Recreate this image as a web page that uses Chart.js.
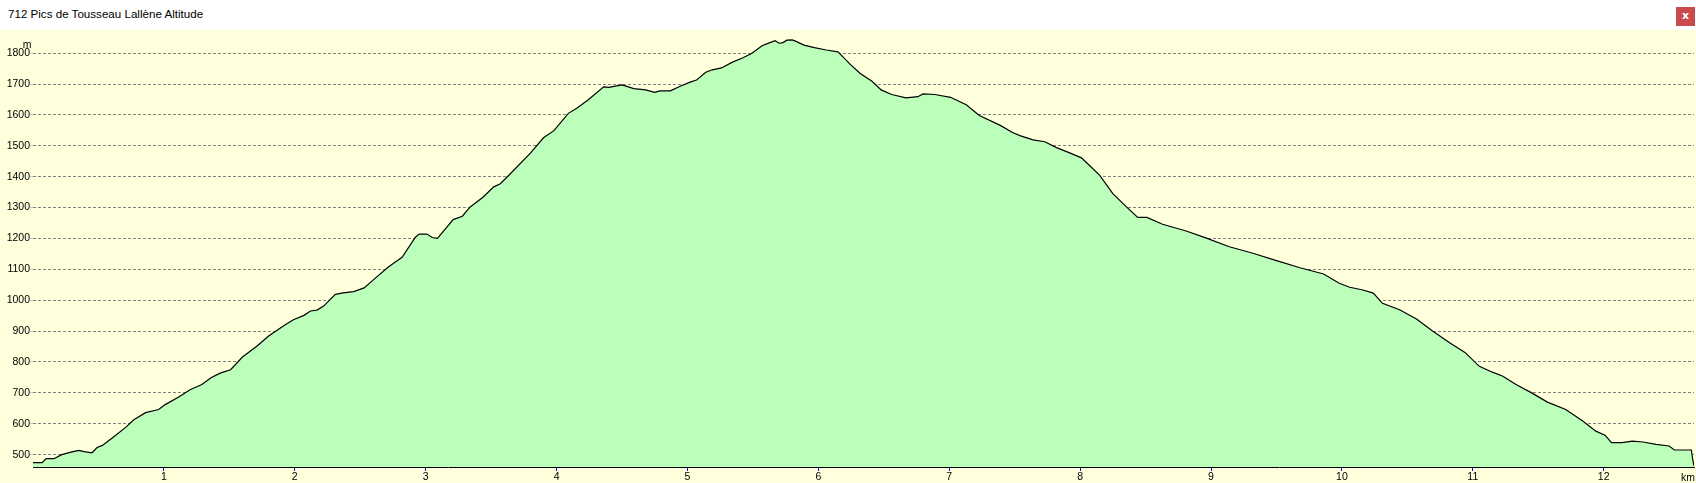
<!DOCTYPE html>
<html>
<head>
<meta charset="utf-8">
<title>712 Pics de Tousseau Lallène Altitude</title>
<script src="https://cdn.jsdelivr.net/npm/chart.js@4"></script>
<style>
  body { margin: 0; background: #fff; width: 1696px; height: 483px; overflow: hidden; position: relative; }
  #title {
    position: absolute; left: 8px; top: 7px;
    font: 11.6px "Liberation Sans", Arial, sans-serif; color: #000;
  }
  #close {
    position: absolute; left: 1676px; top: 7px; width: 19px; height: 19px;
    background: #c94b4b; color: #fff; font: bold 11px "DejaVu Sans", sans-serif;
    text-align: center; line-height: 18px;
  }
  #wrap { position: absolute; left: 0; top: 30px; width: 1696px; height: 453px; background: #ffffdc; }
</style>
</head>
<body>
<div id="title">712 Pics de Tousseau Lallène Altitude</div>
<div id="close">x</div>
<div id="wrap"><canvas id="profile" width="1696" height="453"></canvas></div>

<script>
// distance (km) and altitude (m)
const distKm = [
  0.00, 0.07, 0.10, 0.16, 0.22, 0.29, 0.35, 0.39, 0.45, 0.49, 0.53, 0.62, 0.71, 0.77, 0.86, 0.96,
  1.01, 1.11, 1.20, 1.29, 1.36, 1.43, 1.51, 1.60, 1.71, 1.80, 1.93, 1.99,
  2.07, 2.12, 2.17, 2.22, 2.31, 2.37, 2.45, 2.53, 2.60, 2.71, 2.76, 2.82, 2.92, 2.95,
  3.01, 3.05, 3.09, 3.21, 3.28, 3.34, 3.44, 3.52, 3.57, 3.63, 3.80, 3.90, 3.98,
  4.09, 4.16, 4.24, 4.36, 4.40, 4.50, 4.59, 4.68, 4.75, 4.79, 4.87, 4.94,
  5.02, 5.07, 5.14, 5.19, 5.26, 5.34, 5.42, 5.49, 5.57, 5.63, 5.67, 5.70, 5.73, 5.76, 5.80, 5.83, 5.89, 5.97,
  6.06, 6.15, 6.24, 6.32, 6.41, 6.48, 6.56, 6.67, 6.76, 6.80, 6.89,
  7.01, 7.13, 7.23, 7.39, 7.48, 7.54, 7.64, 7.73, 7.82, 7.92,
  8.01, 8.07, 8.15, 8.25, 8.35, 8.44, 8.51, 8.63, 8.81, 8.96,
  9.14, 9.32, 9.50, 9.68, 9.86, 9.98,
  10.06, 10.16, 10.24, 10.31, 10.44, 10.57, 10.69, 10.82, 10.94,
  11.05, 11.15, 11.23, 11.33, 11.45, 11.57, 11.71, 11.84, 11.94,
  12.01, 12.06, 12.14, 12.22, 12.30, 12.40, 12.50, 12.54, 12.67, 12.68, 12.69
];
const altM = [
  474, 474, 487, 487, 500, 508, 514, 510, 506, 523, 530, 559, 589, 613, 636, 646,
  662, 686, 710, 727, 749, 764, 775, 816, 851, 884, 921, 937,
  951, 965, 968, 981, 1019, 1024, 1028, 1040, 1066, 1106, 1121, 1139, 1203, 1214,
  1214, 1203, 1200, 1261, 1272, 1302, 1334, 1367, 1377, 1402, 1476, 1526, 1549,
  1605, 1623, 1648, 1691, 1689, 1697, 1685, 1681, 1673, 1678, 1678, 1692,
  1706, 1713, 1738, 1746, 1752, 1770, 1784, 1799, 1824, 1834, 1840, 1832, 1834, 1842, 1843, 1838, 1826, 1818,
  1810, 1804, 1765, 1734, 1709, 1681, 1666, 1655, 1659, 1668, 1666,
  1657, 1633, 1598, 1566, 1544, 1533, 1519, 1513, 1494, 1477,
  1461, 1437, 1404, 1345, 1304, 1268, 1268, 1246, 1224, 1202,
  1173, 1152, 1128, 1105, 1085, 1055,
  1042, 1033, 1023, 990, 969, 939, 901, 863, 831,
  786, 767, 754, 727, 700, 670, 646, 609, 576,
  563, 539, 539, 544, 541, 533, 528, 515, 515, 485, 463
];

const xTicks = [1, 2, 3, 4, 5, 6, 7, 8, 9, 10, 11, 12];
const yTicks = [500, 600, 700, 800, 900, 1000, 1100, 1200, 1300, 1400, 1500, 1600, 1700, 1800];
const xUnit = "km";
const yUnit = "m";

const FONT = { family: '"Liberation Sans", Arial, sans-serif', size: 10.5 };

/* unit labels next to the axes */
const unitLabels = {
  id: "unitLabels",
  afterDraw(chart) {
    const ctx = chart.ctx;
    const y = chart.scales.y;
    const area = chart.chartArea;
    ctx.save();
    ctx.fillStyle = "#000";
    ctx.font = `${FONT.size}px ${FONT.family}`;
    ctx.textAlign = "center";
    ctx.textBaseline = "middle";
    ctx.fillText(yUnit, 27, y.getPixelForValue(yTicks[yTicks.length - 1]) - 8);
    ctx.textAlign = "right";
    ctx.fillText(xUnit, chart.width - 1, area.bottom + 11);
    ctx.restore();
  }
};

new Chart(document.getElementById("profile"), {
  type: "line",
  data: {
    datasets: [{
      data: distKm.map((d, i) => ({ x: d, y: altM[i] })),
      borderColor: "#000",
      borderWidth: 1.2,
      backgroundColor: "#bbffbb",
      fill: "start",
      pointRadius: 0,
      tension: 0
    }]
  },
  options: {
    responsive: false,
    animation: false,
    layout: { padding: { top: 0, right: 2, bottom: 0, left: 0 } },
    plugins: {
      legend: { display: false },
      tooltip: { enabled: false }
    },
    scales: {
      x: {
        type: "linear",
        min: 0,
        max: distKm[distKm.length - 1],
        afterBuildTicks: axis => { axis.ticks = xTicks.map(v => ({ value: v })); },
        afterFit: axis => { axis.height = 16; },
        grid: { drawOnChartArea: false, drawTicks: true, tickLength: 4, tickColor: "#0000ff" },
        border: { display: true, color: "#000", width: 1 },
        ticks: { color: "#000", font: FONT, padding: 0, maxRotation: 0, autoSkip: false, callback: v => String(v) }
      },
      y: {
        min: 460,
        max: 1874,
        afterBuildTicks: axis => { axis.ticks = yTicks.map(v => ({ value: v })); },
        afterFit: axis => { axis.width = 33; },
        grid: { color: "#808080", lineWidth: 1, tickLength: 3, tickColor: "#9fd0ff" },
        border: { display: false, dash: [3, 2] },
        // tiny lineHeight so the top label does not push the plot area down
        ticks: { color: "#000", font: { ...FONT, lineHeight: 0.05 }, padding: 0, callback: v => String(v) }
      }
    }
  },
  plugins: [unitLabels]
});
</script>
</body>
</html>
